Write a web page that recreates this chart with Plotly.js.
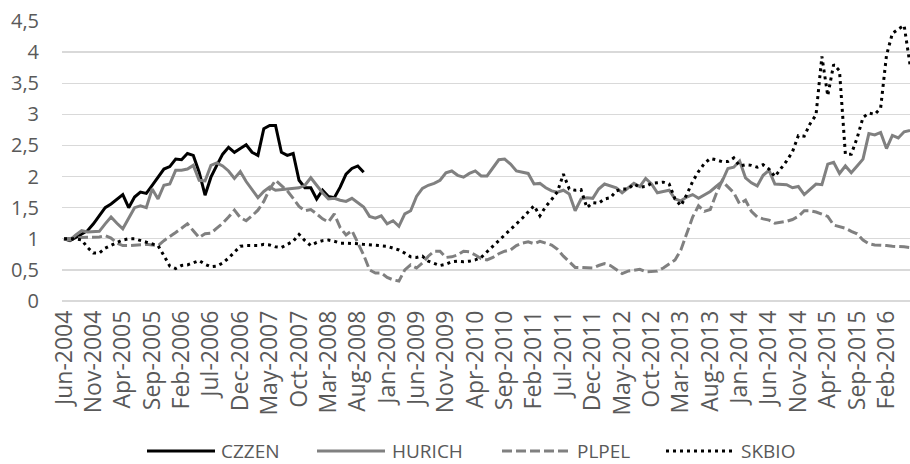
<!DOCTYPE html>
<html>
<head>
<meta charset="utf-8">
<script src="https://cdn.plot.ly/plotly-3.0.1.min.js"></script>
<style>
  html, body { margin: 0; padding: 0; background: #ffffff; }
  #chart { width: 910px; height: 464px; }
</style>
</head>
<body>
<div id="chart"></div>
<script>
// ---- data ----
const MONTH_NAMES = ['Jan','Feb','Mar','Apr','May','Jun','Jul','Aug','Sep','Oct','Nov','Dec'];
const START_YEAR = 2004;
const START_MONTH = 5; // Jun
const N_MONTHS = 145;  // Jun-2004 .. Jun-2016
const TICK_EVERY = 5;

const CZZEN = [1.00,0.97,1.02,1.07,1.13,1.24,1.37,1.50,1.56,1.63,
  1.71,1.50,1.67,1.75,1.73,1.86,1.99,2.12,2.16,2.28,
  2.27,2.37,2.34,2.07,1.70,1.99,2.18,2.36,2.47,2.39,
  2.45,2.51,2.39,2.34,2.77,2.82,2.82,2.39,2.34,2.37,
  1.94,1.82,1.82,1.64,1.78,1.68,1.66,1.83,2.04,2.13,
  2.17,2.07];

const HURICH = [1.00,0.98,1.06,1.13,1.11,1.11,1.12,1.24,1.35,1.25,
  1.16,1.33,1.50,1.53,1.50,1.80,1.64,1.86,1.88,2.10,
  2.10,2.12,2.18,1.94,1.93,2.18,2.22,2.17,2.09,1.97,
  2.08,1.92,1.79,1.66,1.76,1.83,1.78,1.79,1.80,1.81,
  1.82,1.86,1.98,1.86,1.74,1.64,1.65,1.62,1.60,1.65,
  1.58,1.51,1.36,1.33,1.37,1.24,1.29,1.20,1.40,1.45,
  1.68,1.81,1.86,1.89,1.94,2.06,2.09,2.02,1.99,2.05,
  2.09,2.01,2.01,2.14,2.27,2.28,2.20,2.09,2.07,2.05,
  1.88,1.89,1.82,1.77,1.75,1.78,1.72,1.45,1.64,1.66,
  1.65,1.80,1.88,1.85,1.82,1.74,1.81,1.89,1.84,1.97,
  1.88,1.74,1.76,1.78,1.64,1.61,1.67,1.71,1.65,1.70,
  1.76,1.84,1.92,2.13,2.15,2.25,1.98,1.90,1.85,2.02,
  2.10,1.88,1.87,1.87,1.82,1.84,1.71,1.80,1.88,1.87,
  2.20,2.23,2.05,2.17,2.06,2.17,2.28,2.69,2.67,2.71,
  2.45,2.66,2.62,2.72,2.74];

const PLPEL = [1.00,1.00,1.01,1.02,1.02,1.02,1.03,1.05,1.01,0.93,
  0.89,0.89,0.90,0.90,0.91,0.90,0.89,0.97,1.03,1.10,
  1.17,1.24,1.13,1.02,1.08,1.09,1.17,1.25,1.35,1.46,
  1.34,1.29,1.37,1.46,1.60,1.80,1.94,1.85,1.77,1.65,
  1.52,1.45,1.47,1.40,1.32,1.27,1.40,1.18,1.06,1.13,
  0.93,0.74,0.50,0.45,0.45,0.38,0.34,0.32,0.50,0.58,
  0.53,0.61,0.72,0.80,0.80,0.70,0.71,0.74,0.80,0.79,
  0.74,0.68,0.66,0.70,0.76,0.80,0.82,0.89,0.93,0.95,
  0.92,0.96,0.93,0.90,0.83,0.72,0.63,0.54,0.54,0.53,
  0.53,0.57,0.60,0.57,0.50,0.44,0.48,0.50,0.51,0.47,
  0.47,0.48,0.53,0.60,0.66,0.82,1.08,1.35,1.53,1.44,
  1.47,1.72,1.93,1.83,1.74,1.56,1.62,1.44,1.35,1.32,
  1.30,1.25,1.26,1.28,1.31,1.36,1.45,1.45,1.43,1.40,
  1.36,1.22,1.19,1.17,1.12,1.08,0.98,0.92,0.90,0.90,
  0.89,0.88,0.88,0.87,0.86];

const SKBIO = [1.00,1.00,1.00,0.98,0.86,0.77,0.77,0.85,0.90,0.94,
  0.98,1.00,1.00,0.97,0.95,0.92,0.89,0.73,0.56,0.52,
  0.57,0.58,0.61,0.65,0.59,0.55,0.56,0.61,0.69,0.79,
  0.88,0.89,0.89,0.89,0.91,0.90,0.87,0.86,0.91,0.96,
  1.07,0.97,0.89,0.94,0.97,0.98,0.96,0.93,0.93,0.93,
  0.92,0.91,0.90,0.89,0.89,0.88,0.85,0.82,0.77,0.71,
  0.70,0.72,0.64,0.60,0.57,0.59,0.63,0.64,0.63,0.64,
  0.66,0.70,0.79,0.88,0.96,1.06,1.15,1.23,1.33,1.43,
  1.53,1.37,1.52,1.63,1.76,2.04,1.80,1.78,1.79,1.50,
  1.58,1.57,1.64,1.66,1.77,1.80,1.80,1.88,1.83,1.84,
  1.89,1.90,1.91,1.88,1.64,1.53,1.71,1.92,2.08,2.21,
  2.29,2.27,2.24,2.24,2.30,2.17,2.19,2.18,2.15,2.19,
  2.12,2.00,2.12,2.25,2.40,2.66,2.65,2.85,2.99,3.93,
  3.30,3.80,3.70,2.36,2.36,2.62,2.95,3.02,3.00,3.10,
  3.95,4.30,4.37,4.43,3.80];

const SERIES_NAMES = ['CZZEN','HURICH','PLPEL','SKBIO'];

// ---- categories ----
const categories = [];
for (let k = 0; k < N_MONTHS; k++) {
  const m = (START_MONTH + k) % 12;
  const y = START_YEAR + Math.floor((START_MONTH + k) / 12);
  categories.push(MONTH_NAMES[m] + '-' + y);
}
const tickLabels = categories.filter((c, i) => i % TICK_EVERY === 0);

// ---- styles ----
const TXT = '#595959';
const FONT = 'Open Sans, Noto Sans, sans-serif';
const styles = {
  CZZEN:  {color: '#000000', width: 3, dash: 'solid'},
  HURICH: {color: '#808080', width: 3, dash: 'solid'},
  PLPEL:  {color: '#808080', width: 3, dash: '10px,4px'},
  SKBIO:  {color: '#000000', width: 3, dash: '3px,4px'}
};
const values = {CZZEN, HURICH, PLPEL, SKBIO};

const traces = SERIES_NAMES.map(name => ({
  type: 'scatter',
  mode: 'lines',
  name: name,
  x: categories.slice(0, values[name].length),
  y: values[name],
  line: {color: styles[name].color, width: styles[name].width, dash: styles[name].dash, shape: 'linear'},
  hoverinfo: 'x+y+name'
}));

// ---- legend built from shapes + annotations ----
const PLOT_L = 62, PLOT_R = 910, PLOT_T = 21, PLOT_B = 301;
const toPX = px => (px - PLOT_L) / (PLOT_R - PLOT_L);
const toPY = py => (PLOT_B - py) / (PLOT_B - PLOT_T);
const legendY = 451;
const legendItems = [
  {name: 'CZZEN',  x0: 147, x1: 215, tx: 220},
  {name: 'HURICH', x0: 317, x1: 385, tx: 391},
  {name: 'PLPEL',  x0: 502, x1: 570, tx: 576},
  {name: 'SKBIO',  x0: 666, x1: 735, tx: 740}
];
const shapes = legendItems.map(it => ({
  type: 'line', xref: 'paper', yref: 'paper',
  x0: toPX(it.x0), x1: toPX(it.x1), y0: toPY(legendY), y1: toPY(legendY),
  line: {color: styles[it.name].color, width: styles[it.name].width, dash: styles[it.name].dash}
}));
const annotations = legendItems.map(it => ({
  xref: 'paper', yref: 'paper', x: toPX(it.tx), y: toPY(legendY),
  xanchor: 'left', yanchor: 'middle', showarrow: false, borderpad: 0,
  text: it.name, font: {family: FONT, size: 19, color: TXT}
}));

const layout = {
  width: 910, height: 464,
  margin: {l: PLOT_L, r: 910 - PLOT_R, t: PLOT_T, b: 464 - PLOT_B},
  paper_bgcolor: '#ffffff', plot_bgcolor: '#ffffff',
  separators: ', ',
  showlegend: false,
  font: {family: FONT, color: TXT},
  xaxis: {
    type: 'category',
    range: [-0.35, N_MONTHS - 1],
    tickmode: 'array', tickvals: tickLabels, ticktext: tickLabels,
    tickangle: -90,
    tickfont: {family: FONT, size: 23, color: TXT},
    showgrid: false, zeroline: false, showline: false, ticks: '',
    ticklabelstandoff: 4
  },
  yaxis: {
    range: [0, 4.5], dtick: 0.5, tick0: 0,
    tickfont: {family: FONT, size: 20, color: TXT},
    showgrid: true, gridcolor: '#d9d9d9', gridwidth: 1.3,
    zeroline: true, zerolinecolor: '#d9d9d9', zerolinewidth: 1.3,
    showline: false, ticks: '',
    ticklabelstandoff: 22
  },
  shapes: shapes,
  annotations: annotations
};

Plotly.newPlot('chart', traces, layout, {displayModeBar: false, staticPlot: true});
</script>
</body>
</html>
